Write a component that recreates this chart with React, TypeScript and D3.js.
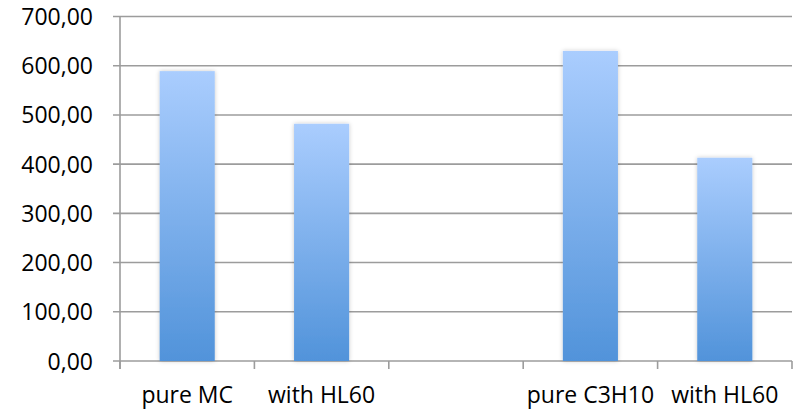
import React from "react";
import * as d3 from "d3";

const categories = ["pure MC", "with HL60", "", "pure C3H10", "with HL60"];
const values: (number | null)[] = [589, 482, null, 630, 413];
const yTicks = [0, 100, 200, 300, 400, 500, 600, 700];

const W = 793;
const H = 410;
const left = 120;
const right = 792;
const top = 16.5;
const bottom = 361;

const fmt = (v: number) => v.toFixed(2).replace(".", ",");

export default function App() {
  const x = d3
    .scaleBand<number>()
    .domain(categories.map((_, i) => i))
    .range([left, right])
    .padding(0);
  const y = d3.scaleLinear().domain([0, 700]).range([bottom, top]);
  const barW = x.bandwidth() * 0.41;
  const font = "'Open Sans', sans-serif";
  const gridColor = "#9c9c9c";

  const boundaries = categories.map((_, i) => x(i) as number).concat([right]);

  return (
    <svg
      width={W}
      height={H}
      style={{ position: "absolute", left: 0, top: 0, background: "#fff" }}
    >
      <defs>
        <linearGradient id="barFill" x1="0" y1="0" x2="0" y2="1">
          <stop offset="0%" stopColor="#aacdfe" />
          <stop offset="100%" stopColor="#5193da" />
        </linearGradient>
        <filter id="barShadow" x="-30%" y="-10%" width="160%" height="120%">
          <feDropShadow dx="0" dy="0" stdDeviation="2.2" floodColor="#000" floodOpacity="0.22" />
        </filter>
      </defs>

      {/* horizontal gridlines with left tick stubs */}
      {yTicks.map((t) => (
        <line
          key={"g" + t}
          x1={113}
          x2={right}
          y1={y(t)}
          y2={y(t)}
          stroke={gridColor}
          strokeWidth={1.6}
        />
      ))}

      {/* value axis */}
      <line x1={left} x2={left} y1={y(700)} y2={bottom + 8} stroke={gridColor} strokeWidth={1.6} />

      {/* category separators */}
      {boundaries.map((bx, i) => (
        <line
          key={"c" + i}
          x1={bx}
          x2={bx}
          y1={bottom}
          y2={bottom + 8}
          stroke={gridColor}
          strokeWidth={1.6}
        />
      ))}

      {/* bars */}
      {values.map((v, i) =>
        v == null ? null : (
          <rect
            key={"b" + i}
            x={(x(i) as number) + x.bandwidth() / 2 - barW / 2}
            y={y(v)}
            width={barW}
            height={bottom - y(v)}
            fill="url(#barFill)"
            filter="url(#barShadow)"
          />
        )
      )}

      {/* y tick labels */}
      {yTicks.map((t) => (
        <text
          key={"l" + t}
          x={93}
          y={y(t) + 8.5}
          textAnchor="end"
          fontFamily={font}
          fontSize={23}
          fill="#000"
        >
          {fmt(t)}
        </text>
      ))}

      {/* category labels */}
      {categories.map((c, i) => (
        <text
          key={"x" + i}
          x={(x(i) as number) + x.bandwidth() / 2}
          y={403}
          textAnchor="middle"
          fontFamily={font}
          fontSize={23}
          fill="#000"
        >
          {c}
        </text>
      ))}
    </svg>
  );
}
